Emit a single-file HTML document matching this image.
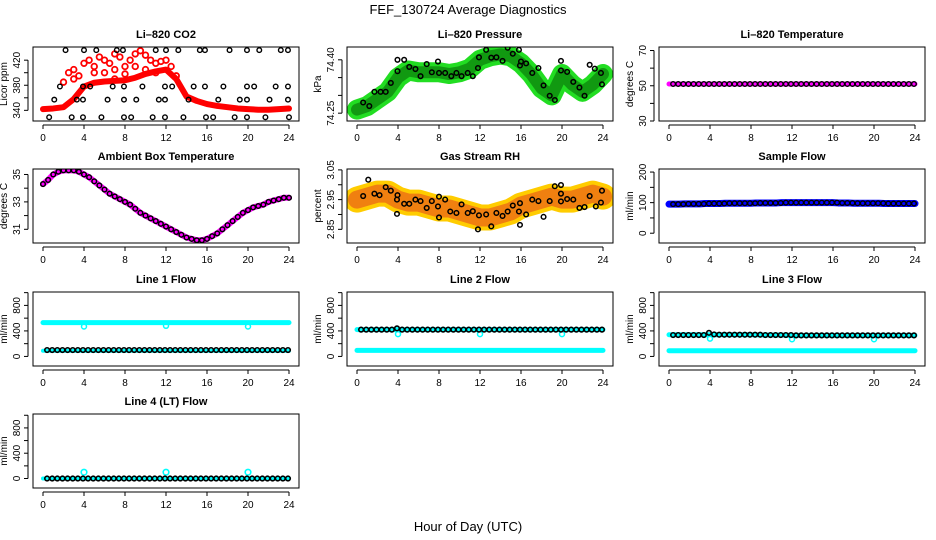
<!DOCTYPE html>
<html><head><meta charset="utf-8">
<style>
html,body{margin:0;padding:0;background:#fff;}
svg{display:block;font-family:"Liberation Sans",sans-serif;}
</style></head>
<body>
<svg id="chart" width="936" height="540" viewBox="0 0 936 540" xmlns="http://www.w3.org/2000/svg">
<rect x="0" y="0" width="936" height="540" fill="#fff"/>
<text x="468" y="14" text-anchor="middle" font-size="13">FEF_130724  Average Diagnostics</text>
<text x="468" y="531" text-anchor="middle" font-size="13">Hour of Day (UTC)</text>
</svg>
<script>
// ---------- DATA ----------
const hours = [0,1,2,3,4,5,6,7,8,9,10,11,12,13,14,15,16,17,18,19,20,21,22,23,24];
const xTicks = [0,4,8,12,16,20,24];
const xTickLabels = ["0","4","8","12","16","20","24"];

// Li-820 CO2
const co2Line = [342,343,345,358,378,384,386,387,388,392,398,402,405,390,362,355,350,347,345,343,342,341,341,342,343];
const co2UpperH = [2,2.5,3,3.5,4,4.5,5,5.5,6,6,6.5,7,7,7.5,8,8,8.5,9,9.5,10,10,10.5,11,11.5,12,12.5,13,3,5,7,9,11];
const co2UpperV = [385,400,405,395,415,420,410,425,420,400,415,430,390,425,410,398,420,430,435,428,405,420,415,418,420,410,395,390,400,405,410,400];
const co2BlackH = [2.2,4.0,5.2,7.2,7.8,11.0,12.0,13.2,15.3,15.8,18.2,19.9,21.1,23.2,23.9,
  1.65,3.9,4.6,6.8,7.9,9.7,11.9,12.6,14.7,15.8,17.6,19.9,20.6,22.7,23.9,
  1.1,3.3,3.9,6.3,7.9,9.1,11.3,11.9,14.2,17.1,19.2,19.9,22.1,23.9,
  0.6,2.8,3.9,5.7,7.9,8.6,10.7,11.9,13.7,15.9,16.6,18.7,19.9,21.7,24];
const co2BlackV = [436,436,436,436,436,436,436,436,436,436,436,436,436,436,436,
  378,378,378,378,378,378,378,378,378,378,378,378,378,378,378,
  357,357,357,357,357,357,357,357,357,357,357,357,357,357,
  329,329,329,329,329,329,329,329,329,329,329,329,329,329,329];

// Li-820 Pressure
const presBand = [74.26,74.27,74.29,74.31,74.35,74.37,74.365,74.365,74.365,74.36,74.365,74.375,74.40,74.41,74.415,74.41,74.39,74.36,74.32,74.30,74.36,74.33,74.31,74.33,74.36];
const presBlackH = [0.6,1.2,1.7,2.3,2.8,3.3,3.95,3.95,4.6,5.1,5.7,6.2,6.8,7.3,7.9,8.0,8.6,9.2,9.7,10.2,10.8,11.3,11.8,11.9,12.6,13.1,13.6,14.2,14.7,15.2,15.8,15.9,16.0,16.5,17.1,17.7,18.2,18.8,19.3,19.9,19.9,20.5,21.1,21.7,22.2,22.7,23.2,23.8,23.9];
const presBlackV = [74.28,74.27,74.31,74.31,74.31,74.335,74.40,74.368,74.40,74.38,74.374,74.354,74.388,74.365,74.395,74.363,74.363,74.354,74.363,74.354,74.363,74.354,74.377,74.407,74.428,74.406,74.407,74.397,74.434,74.417,74.428,74.384,74.395,74.39,74.363,74.377,74.328,74.299,74.287,74.397,74.37,74.366,74.338,74.322,74.299,74.386,74.375,74.363,74.331];

// Li-820 Temperature (half-hourly)
const tempLi = [51,51,51,51,51,51,51,51,51,51,51,51,51,51,51,51,51,51,51,51,51,51,51,51,51,51,51,51,51,51,51,51,51,51,51,51,51,51,51,51,51,51,51,51,51,51,51,51,51];

// Ambient box temperature (half-hourly)
const ambient = [34.3,34.6,35.0,35.2,35.3,35.3,35.3,35.2,35.0,34.8,34.5,34.2,33.9,33.6,33.4,33.2,33.0,32.8,32.5,32.2,32.0,31.8,31.6,31.4,31.2,31.0,30.8,30.6,30.4,30.3,30.2,30.2,30.3,30.5,30.7,31.0,31.3,31.6,31.9,32.2,32.4,32.6,32.7,32.8,33.0,33.1,33.2,33.3,33.3];

// Gas stream RH
const rhBand = [2.95,2.96,2.97,2.97,2.95,2.94,2.94,2.93,2.92,2.92,2.91,2.90,2.89,2.89,2.90,2.91,2.93,2.94,2.95,2.96,2.95,2.95,2.96,2.97,2.96];
const rhBlackH = [0.6,1.1,1.7,2.2,2.8,3.3,3.9,3.95,3.9,4.6,5.1,5.7,6.2,6.8,7.3,7.9,8.0,8.0,8.6,9.1,9.7,10.2,10.8,11.3,11.8,11.9,12.6,13.1,13.6,14.2,14.7,15.2,15.9,15.8,15.9,16.5,17.1,17.7,18.2,18.8,19.3,19.9,19.9,19.9,20.5,21.1,21.7,22.2,22.7,23.3,23.8,23.9];
const rhBlackV = [2.962,3.017,2.97,2.965,2.992,2.98,2.95,2.965,2.902,2.936,2.936,2.95,2.945,2.922,2.945,2.927,2.96,2.89,2.95,2.91,2.905,2.934,2.905,2.911,2.85,2.897,2.9,2.86,2.905,2.895,2.91,2.93,2.938,2.91,2.865,2.9,2.95,2.945,2.892,2.945,2.995,2.999,2.97,2.944,2.952,2.95,2.922,2.925,2.962,2.927,2.94,2.98];

// Sample flow (half-hourly)
const sampleFlow = [95,95,95,96,96,96,96,97,97,97,97,98,98,98,98,98,98,99,99,99,99,99,100,100,100,100,100,100,100,100,100,100,100,99,99,99,98,98,98,98,98,98,97,97,97,97,97,97,97];

// Line flows (half-hourly black averages; cyan raw)
const l1Cyan = [530,530,530,530,530,530,530,530,530,530,530,530,530,530,530,530,530,530,530,530,530,530,530,530,530];
const l1DipH = [4,12,20];
const l1DipV = [470,480,470];
const l1Low  = [90,90,90,90,90,90,90,90,90,90,90,90,90,90,90,90,90,90,90,90,90,90,90,90,90];
const l1Black = [100,100,100,100,100,100,100,100,100,100,100,100,100,100,100,100,100,100,100,100,100,100,100,100,100,100,100,100,100,100,100,100,100,100,100,100,100,100,100,100,100,100,100,100,100,100,100,100,100];
const l2Cyan = [420,420,420,420,420,420,420,420,420,420,420,420,420,420,420,420,420,420,420,420,420,420,420,420,420];
const l2DipH = [4,12,20];
const l2DipV = [350,350,350];
const l2Low  = [95,95,95,95,95,95,95,95,95,95,95,95,95,95,95,95,95,95,95,95,95,95,95,95,95];
const l2Black = [420,420,420,420,420,420,420,440,420,420,420,420,420,420,420,420,420,420,420,420,420,420,420,420,420,420,420,420,420,420,420,420,420,420,420,420,420,420,420,420,420,420,420,420,420,420,420,420,420];
const l3Cyan = [340,340,340,340,340,340,340,340,340,335,335,335,330,330,330,330,330,330,330,330,330,330,330,330,330];
const l3DipH = [4,12,20];
const l3DipV = [280,270,270];
const l3Low  = [90,90,90,90,90,90,90,90,90,90,90,90,90,90,90,90,90,90,90,90,90,90,90,90,90];
const l3Black = [335,335,335,335,335,335,335,370,345,340,340,340,340,340,340,340,340,340,335,335,335,335,335,335,330,330,330,330,330,330,330,330,330,330,330,330,330,330,330,330,330,330,330,330,330,330,330,330,325];
const l4Cyan = [0,0,0,0,0,0,0,0,0,0,0,0,0,0,0,0,0,0,0,0,0,0,0,0,0];
const l4SpikeH = [4,12,20];
const l4SpikeV = [100,100,100];
const l4Black = [0,0,0,0,0,0,0,0,0,0,0,0,0,0,0,0,0,0,0,0,0,0,0,0,0,0,0,0,0,0,0,0,0,0,0,0,0,0,0,0,0,0,0,0,0,0,0,0,0];

// ---------- DRAWING ----------
const NS = "http://www.w3.org/2000/svg";
const svg = document.getElementById("chart");
const colLeft = [33,347,659], W = 266;
const rowTop = [47,169,292,414], H = 74;

function mk(tag, attrs, parent) {
  const e = document.createElementNS(NS, tag);
  for (const k in attrs) e.setAttribute(k, attrs[k]);
  (parent || svg).appendChild(e);
  return e;
}

function panel(name, col, row, title, ylab, ymin, ymax, yt, ytl) {
  const L = colLeft[col], T = rowTop[row];
  const g = mk("g", {});
  
  
  const xs = h => L + 10 + h * (W - 20) / 24;
  const ys = v => T + H - (v - ymin) / (ymax - ymin) * H;
  const t = mk("text", {x: L + W / 2, y: T - 9, "text-anchor": "middle", "font-size": 11, "font-weight": "bold"}, g);
  
  
  t.textContent = title;
  const xa = mk("g", {stroke: "#000", "stroke-width": 1}, g);
  
  
  mk("line", {x1: xs(0), x2: xs(24), y1: T + H + 4, y2: T + H + 4}, xa);
  xTicks.forEach((h, i) => {
    mk("line", {x1: xs(h), x2: xs(h), y1: T + H + 4, y2: T + H + 8}, xa);
    const lb = mk("text", {x: xs(h), y: T + H + 20, "text-anchor": "middle", "font-size": 10, stroke: "none"}, xa);
    
    
    lb.textContent = xTickLabels[i];
  });
  const ya = mk("g", {stroke: "#000", "stroke-width": 1}, g);
  
  
  mk("line", {x1: L - 5, x2: L - 5, y1: ys(yt[0]), y2: ys(yt[yt.length - 1])}, ya);
  yt.forEach((v, i) => {
    mk("line", {x1: L - 9, x2: L - 5, y1: ys(v), y2: ys(v)}, ya);
    if (ytl[i] !== "") {
      const lb = mk("text", {x: 0, y: 0, "text-anchor": "middle", "font-size": 10, stroke: "none",
        transform: `translate(${L - 13},${ys(v)}) rotate(-90)`}, ya);
      
      
      lb.textContent = ytl[i];
    }
  });
  const yl = mk("text", {x: 0, y: 0, "text-anchor": "middle", "font-size": 10,
    transform: `translate(${L - 26},${T + H / 2}) rotate(-90)`}, g);
  
  
  yl.textContent = ylab;
  const clip = mk("clipPath", {id: "clip-" + name}, g);
  mk("rect", {x: L, y: T, width: W, height: H}, clip);
  const plot = mk("g", {"clip-path": `url(#clip-${name})`}, g);
  
  
  const box = mk("rect", {x: L, y: T, width: W, height: H, fill: "none", stroke: "#000", "stroke-width": 1}, g);
  
  
  return {xs, ys, plot};
}

function band(p, name, hs, vs, color, width) {
  const pts = hs.map((h, i) => p.xs(h) + "," + p.ys(vs[i])).join(" ");
  const pl = mk("polyline", {points: pts, fill: "none", stroke: color, "stroke-width": width, "stroke-linejoin": "round", "stroke-linecap": "round"}, p.plot);
  
  
}
function dots(p, name, hs, vs, color, r, sw) {
  const g = mk("g", {}, p.plot);
  
  
  hs.forEach((h, i) => {
    const c = mk("circle", {cx: p.xs(h), cy: p.ys(vs[i]), r: r, fill: "none", stroke: color, "stroke-width": sw}, g);
    
    
  });
}
const halfHours = ambient.map((_, i) => i * 0.5);
const blackH = halfHours.map(h => Math.min(24, h + 0.4)).slice(0, 48);

// Panel 1: CO2
let p = panel("co2", 0, 0, "Li\u2013820 CO2", "Licor ppm", 323, 441, [340,360,380,400,420], ["340","","380","","420"]);
band(p, "co2-line", hours, co2Line, "#f00", 6);
dots(p, "co2-scatter", co2UpperH, co2UpperV, "#f00", 2.8, 1.8);
dots(p, "co2-black-points", co2BlackH, co2BlackV, "#000", 2.3, 1.4);

// Panel 2: Pressure
p = panel("pressure", 1, 0, "Li\u2013820 Pressure", "kPa", 74.228, 74.436, [74.25,74.30,74.35,74.40], ["74.25","","","74.40"]);
band(p, "pressure-band-outer", hours, presBand, "#22dd22", 20);
band(p, "pressure-band", hours, presBand, "#119911", 12);
dots(p, "pressure-black-points", presBlackH, presBlackV, "#000", 2.3, 1.5);

// Panel 3: Li-820 temp
p = panel("li820-temp", 2, 0, "Li\u2013820 Temperature", "degrees C", 30, 72, [30,40,50,60,70], ["30","","50","","70"]);
band(p, "li820-temp-line", halfHours, tempLi, "#ff00ff", 5);
dots(p, "li820-temp-black-points", blackH, tempLi.slice(0,48), "#000", 2.3, 1.4);

// Panel 4: Ambient
p = panel("ambient", 0, 1, "Ambient Box Temperature", "degrees C", 30.0, 35.4, [31,32,33,34,35], ["31","","33","","35"]);
band(p, "ambient-line", halfHours, ambient, "#ff00ff", 6);
dots(p, "ambient-black-points", halfHours, ambient, "#000", 2.3, 1.5);

// Panel 5: RH
p = panel("rh", 1, 1, "Gas Stream RH", "percent", 2.804, 3.053, [2.85,2.90,2.95,3.00,3.05], ["2.85","","2.95","","3.05"]);
band(p, "rh-band-outer", hours, rhBand, "#ffcc00", 26);
band(p, "rh-band", hours, rhBand, "#f08010", 18);
dots(p, "rh-black-points", rhBlackH, rhBlackV, "#000", 2.3, 1.5);

// Panel 6: Sample flow
p = panel("sample-flow", 2, 1, "Sample Flow", "ml/min", -32, 210, [0,50,100,150,200], ["0","","100","","200"]);
band(p, "sample-flow-line", halfHours, sampleFlow, "#0000ff", 7);
dots(p, "sample-flow-black-points", blackH, sampleFlow.slice(0,48), "#000", 2.3, 1.4);

const flowTicks = [0,200,400,600,800,1000], flowLabels = ["0","","400","","800",""];
// Line 1
p = panel("line1", 0, 2, "Line 1 Flow", "ml/min", -150, 1010, flowTicks, flowLabels);
band(p, "line1-cyan", hours, l1Cyan, "#00ffff", 5);
dots(p, "line1-cyan-dips", l1DipH, l1DipV, "#00ffff", 2.5, 1.5);
band(p, "line1-cyan-low", hours, l1Low, "#00ffff", 4);
dots(p, "line1-black-points", blackH, l1Black.slice(0,48), "#000", 2.3, 1.6);
// Line 2
p = panel("line2", 1, 2, "Line 2 Flow", "ml/min", -150, 1010, flowTicks, flowLabels);
band(p, "line2-cyan", hours, l2Cyan, "#00ffff", 5);
dots(p, "line2-cyan-dips", l2DipH, l2DipV, "#00ffff", 2.5, 1.5);
band(p, "line2-cyan-low", hours, l2Low, "#00ffff", 5);
dots(p, "line2-black-points", blackH, l2Black.slice(0,48), "#000", 2.3, 1.6);
// Line 3
p = panel("line3", 2, 2, "Line 3 Flow", "ml/min", -150, 1010, flowTicks, flowLabels);
band(p, "line3-cyan", hours, l3Cyan, "#00ffff", 5);
dots(p, "line3-cyan-dips", l3DipH, l3DipV, "#00ffff", 2.5, 1.5);
band(p, "line3-cyan-low", hours, l3Low, "#00ffff", 5);
dots(p, "line3-black-points", blackH, l3Black.slice(0,48), "#000", 2.3, 1.6);
// Line 4
p = panel("line4", 0, 3, "Line 4 (LT) Flow", "ml/min", -150, 1020, flowTicks, flowLabels);
band(p, "line4-cyan", hours, l4Cyan, "#00ffff", 4);
dots(p, "line4-cyan-spikes", l4SpikeH, l4SpikeV, "#00ffff", 2.8, 1.6);
dots(p, "line4-black-points", blackH, l4Black.slice(0,48), "#000", 2.3, 1.6);
</script>
</body></html>
